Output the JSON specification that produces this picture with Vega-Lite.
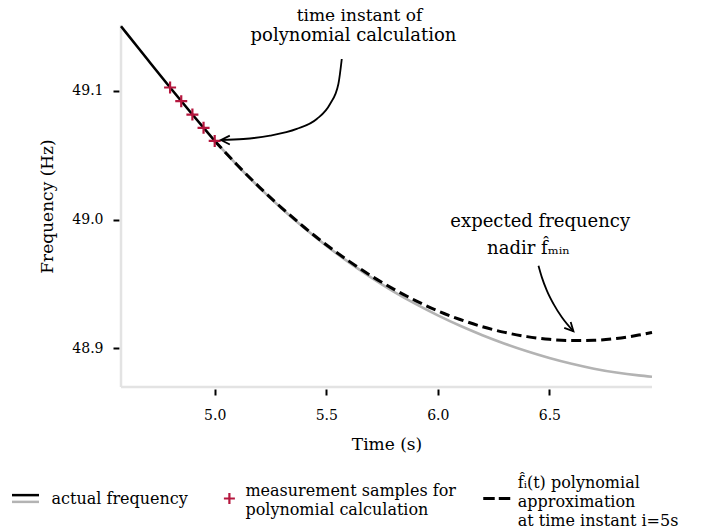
{
  "$schema": "https://vega.github.io/schema/vega-lite/v6.json",
  "width": 531,
  "height": 362,
  "autosize": {"type": "none"},
  "padding": {"left": 121, "top": 25, "right": 57, "bottom": 144},
  "config": {"font": "DejaVu Serif", "view": {"stroke": null}, "axis": {"grid": false},
    "legend": {"title": null, "orient": "none", "padding": 0, "symbolStrokeWidth": 2.5,
      "labelFontSize": 16, "labelFont": "DejaVu Serif", "labelColor": "black", "labelLimit": 400, "labelBaseline": "middle"}},
  "datasets": {
    "actual": [
      {"t": 4.58, "f": 49.150, "key": "A"}, {"t": 4.6, "f": 49.1457, "key": "A"}, {"t": 4.7, "f": 49.124, "key": "A"},
      {"t": 4.8, "f": 49.1025, "key": "A"}, {"t": 4.9, "f": 49.0815, "key": "A"}, {"t": 5.0, "f": 49.061, "key": "A"},
      {"t": 5.0, "f": 49.061, "key": "G"}, {"t": 5.1, "f": 49.0423, "key": "G"}, {"t": 5.2, "f": 49.0248, "key": "G"},
      {"t": 5.3, "f": 49.0086, "key": "G"}, {"t": 5.4, "f": 48.9936, "key": "G"}, {"t": 5.5, "f": 48.9797, "key": "G"},
      {"t": 5.6, "f": 48.9669, "key": "G"}, {"t": 5.7, "f": 48.9551, "key": "G"}, {"t": 5.8, "f": 48.9443, "key": "G"},
      {"t": 5.9, "f": 48.9345, "key": "G"}, {"t": 6.0, "f": 48.9256, "key": "G"}, {"t": 6.1, "f": 48.9175, "key": "G"},
      {"t": 6.2, "f": 48.9102, "key": "G"}, {"t": 6.3, "f": 48.9036, "key": "G"}, {"t": 6.4, "f": 48.8977, "key": "G"},
      {"t": 6.5, "f": 48.8925, "key": "G"}, {"t": 6.6, "f": 48.888, "key": "G"}, {"t": 6.7, "f": 48.8842, "key": "G"},
      {"t": 6.8, "f": 48.8812, "key": "G"}, {"t": 6.9, "f": 48.879, "key": "G"}, {"t": 6.96, "f": 48.878, "key": "G"}
    ],
    "poly": [
      {"t": 5.0, "f": 49.061, "key": "P"}, {"t": 5.1, "f": 49.0425, "key": "P"}, {"t": 5.2, "f": 49.0252, "key": "P"},
      {"t": 5.3, "f": 49.0091, "key": "P"}, {"t": 5.4, "f": 48.9942, "key": "P"}, {"t": 5.5, "f": 48.9804, "key": "P"},
      {"t": 5.6, "f": 48.9679, "key": "P"}, {"t": 5.7, "f": 48.9564, "key": "P"}, {"t": 5.8, "f": 48.9462, "key": "P"},
      {"t": 5.9, "f": 48.9371, "key": "P"}, {"t": 6.0, "f": 48.9291, "key": "P"}, {"t": 6.1, "f": 48.9224, "key": "P"},
      {"t": 6.2, "f": 48.9168, "key": "P"}, {"t": 6.3, "f": 48.9124, "key": "P"}, {"t": 6.4, "f": 48.9091, "key": "P"},
      {"t": 6.5, "f": 48.907, "key": "P"}, {"t": 6.6, "f": 48.9061, "key": "P"}, {"t": 6.7, "f": 48.9063, "key": "P"},
      {"t": 6.8, "f": 48.9077, "key": "P"}, {"t": 6.9, "f": 48.9103, "key": "P"}, {"t": 6.96, "f": 48.9124, "key": "P"}
    ],
    "samples": [
      {"t": 4.8, "f": 49.1025, "key": "S"}, {"t": 4.85, "f": 49.0919, "key": "S"}, {"t": 4.9, "f": 49.0815, "key": "S"},
      {"t": 4.95, "f": 49.0712, "key": "S"}, {"t": 5.0, "f": 49.061, "key": "S"}
    ],
    "arrow1": [
      {"t": 5.5695, "f": 49.1246}, {"t": 5.5543, "f": 49.1052}, {"t": 5.517, "f": 49.0897}, {"t": 5.4574, "f": 49.078},
      {"t": 5.3677, "f": 49.0703}, {"t": 5.248, "f": 49.0651}, {"t": 5.1283, "f": 49.0625}, {"t": 5.0283, "f": 49.0617}
    ],
    "arrow2": [
      {"t": 6.4511, "f": 48.9642}, {"t": 6.4664, "f": 48.9551}, {"t": 6.4888, "f": 48.9448}, {"t": 6.5184, "f": 48.9345},
      {"t": 6.556, "f": 48.9241}, {"t": 6.608, "f": 48.9132}
    ],
    "legendkeys": [{"k1": "G", "k2": "S", "k3": "P"}]
  },
  "layer": [
    {
      "data": {"values": [{}]},
      "mark": {"type": "rule", "color": "#e3e3e3", "strokeWidth": 2.5},
      "encoding": {"x": {"datum": 4.58, "type": "quantitative", "title": "Time (s)", "scale": {"domain": [4.58, 6.96], "nice": false, "zero": false}}}
    },
    {
      "data": {"values": [{}]},
      "mark": {"type": "rule", "color": "#e3e3e3", "strokeWidth": 2.5},
      "encoding": {"y": {"datum": 48.87, "type": "quantitative", "title": "Frequency (Hz)", "scale": {"domain": [48.87, 49.151], "nice": false, "zero": false}}}
    },
    {
      "data": {"name": "actual"},
      "mark": {"type": "line", "strokeWidth": 2.6, "interpolate": "monotone"},
      "encoding": {
        "x": {"field": "t", "type": "quantitative", "title": "Time (s)", "scale": {"domain": [4.58, 6.96], "nice": false, "zero": false},
          "axis": {"title": "Time (s)", "values": [5, 5.5, 6, 6.5], "format": ".1f", "domain": false, "offset": 2,
            "tickColor": "black", "tickWidth": 2, "tickSize": 6, "labelFontSize": 14, "labelColor": "black", "labelPadding": 13,
            "titleFontSize": 17, "titleFontWeight": "normal", "titleColor": "black", "titlePadding": 14, "grid": false,
            "labelFont": "DejaVu Serif", "titleFont": "DejaVu Serif"}},
        "y": {"field": "f", "type": "quantitative", "title": "Frequency (Hz)", "scale": {"domain": [48.87, 49.151], "nice": false, "zero": false},
          "axis": {"title": "Frequency (Hz)", "values": [48.9, 49.0, 49.1], "format": ".1f", "domain": false, "offset": 2,
            "tickColor": "black", "tickWidth": 2, "tickSize": 6, "labelFontSize": 14, "labelColor": "black", "labelPadding": 10,
            "titleFontSize": 17, "titleFontWeight": "normal", "titleColor": "black", "titlePadding": 15, "grid": false,
            "labelFont": "DejaVu Serif", "titleFont": "DejaVu Serif"}},
        "color": {"field": "key", "type": "nominal",
          "scale": {"domain": ["A", "S", "P", "G"], "range": ["#000000", "#b5173e", "#000000", "#b3b3b3"]},
          "legend": {
            "values": ["A"], "legendX": -110.5, "legendY": 458.5,
            "symbolType": "M-1,-0.25H1", "symbolSize": 729, "symbolStrokeWidth": 2.5, "symbolFillColor": "transparent",
            "labelOffset": 11, "labelExpr": "'actual frequency'"
          }}
      }
    },
    {
      "data": {"name": "legendkeys"},
      "mark": {"type": "point", "opacity": 0, "filled": false},
      "encoding": {
        "x": {"datum": 6.0, "type": "quantitative", "title": "Time (s)", "scale": {"domain": [4.58, 6.96], "nice": false, "zero": false}},
        "y": {"datum": 49.0, "type": "quantitative", "title": "Frequency (Hz)", "scale": {"domain": [48.87, 49.151], "nice": false, "zero": false}},
        "fill": {"field": "k1", "type": "nominal", "scale": {"domain": ["G"], "range": ["transparent"]},
          "legend": {
            "legendX": -110.5, "legendY": 458.5, "labelExpr": "''", "labelOffset": 11,
            "symbolType": "M-1,0.25H1", "symbolSize": 729, "symbolStrokeWidth": 2.5,
            "symbolStrokeColor": "#b3b3b3", "symbolOpacity": 1
          }},
        "strokeDash": {"field": "k2", "type": "nominal", "scale": {"domain": ["S"], "range": [[1, 0]]},
          "legend": {
            "legendX": 100.4, "legendY": 465.5, "labelOffset": 8,
            "symbolType": "M-1,0H1M0,-1V1", "symbolSize": 121, "symbolStrokeWidth": 2.2,
            "symbolStrokeColor": "#b5173e", "symbolFillColor": "transparent", "symbolOpacity": 1,
            "labelExpr": "['measurement samples for', 'polynomial calculation']",
            "encoding": {"labels": {"dy": {"value": -8}, "lineHeight": {"value": 19}}}
          }},
        "shape": {"field": "k3", "type": "nominal", "scale": {"domain": ["P"], "range": ["M-1,0H-0.15M0.15,0H1"]},
          "legend": {
            "legendX": 360.75, "legendY": 458.5, "labelOffset": 6,
            "symbolSize": 729, "symbolStrokeWidth": 2.8,
            "symbolStrokeColor": "#000000", "symbolFillColor": "transparent", "symbolOpacity": 1,
            "labelExpr": "['f̂ᵢ(t) polynomial', 'approximation', 'at time instant i=5s']",
            "encoding": {"labels": {"dy": {"value": -16}, "lineHeight": {"value": 19}}}
          }}
      }
    },
    {
      "data": {"name": "poly"},
      "mark": {"type": "line", "strokeWidth": 3, "strokeDash": [10, 5], "interpolate": "monotone"},
      "encoding": {
        "x": {"field": "t", "type": "quantitative", "title": "Time (s)", "scale": {"domain": [4.58, 6.96], "nice": false, "zero": false}},
        "y": {"field": "f", "type": "quantitative", "title": "Frequency (Hz)", "scale": {"domain": [48.87, 49.151], "nice": false, "zero": false}},
        "color": {"field": "key", "type": "nominal", "scale": {"domain": ["A", "S", "P", "G"], "range": ["#000000", "#b5173e", "#000000", "#b3b3b3"]}}
      }
    },
    {
      "data": {"name": "samples"},
      "mark": {"type": "point", "shape": "M-1,0H1M0,-1V1", "size": 144, "filled": false, "strokeWidth": 2.2, "opacity": 1},
      "encoding": {
        "x": {"field": "t", "type": "quantitative", "title": "Time (s)", "scale": {"domain": [4.58, 6.96], "nice": false, "zero": false}},
        "y": {"field": "f", "type": "quantitative", "title": "Frequency (Hz)", "scale": {"domain": [48.87, 49.151], "nice": false, "zero": false}},
        "color": {"field": "key", "type": "nominal", "scale": {"domain": ["A", "S", "P", "G"], "range": ["#000000", "#b5173e", "#000000", "#b3b3b3"]}}
      }
    },
    {
      "data": {"name": "arrow1"},
      "mark": {"type": "line", "color": "black", "strokeWidth": 1.8, "interpolate": "monotone"},
      "encoding": {
        "x": {"field": "t", "type": "quantitative", "title": "Time (s)", "scale": {"domain": [4.58, 6.96], "nice": false, "zero": false}},
        "y": {"field": "f", "type": "quantitative", "title": "Frequency (Hz)", "scale": {"domain": [48.87, 49.151], "nice": false, "zero": false}}
      }
    },
    {
      "data": {"name": "arrow2"},
      "mark": {"type": "line", "color": "black", "strokeWidth": 1.8, "interpolate": "monotone"},
      "encoding": {
        "x": {"field": "t", "type": "quantitative", "title": "Time (s)", "scale": {"domain": [4.58, 6.96], "nice": false, "zero": false}},
        "y": {"field": "f", "type": "quantitative", "title": "Frequency (Hz)", "scale": {"domain": [48.87, 49.151], "nice": false, "zero": false}}
      }
    },
    {
      "data": {"values": [{}]},
      "mark": {"type": "point", "shape": "M2.2,-1.1L0,0L2.2,1.1", "size": 64, "filled": false, "stroke": "black", "strokeWidth": 1.8, "angle": 0, "opacity": 1},
      "encoding": {
        "x": {"datum": 5.0283, "type": "quantitative", "title": "Time (s)", "scale": {"domain": [4.58, 6.96], "nice": false, "zero": false}},
        "y": {"datum": 49.0617, "type": "quantitative", "title": "Frequency (Hz)", "scale": {"domain": [48.87, 49.151], "nice": false, "zero": false}}
      }
    },
    {
      "data": {"values": [{}]},
      "mark": {"type": "point", "shape": "M2.2,-1.1L0,0L2.2,1.1", "size": 64, "filled": false, "stroke": "black", "strokeWidth": 1.8, "angle": 227, "opacity": 1},
      "encoding": {
        "x": {"datum": 6.608, "type": "quantitative", "title": "Time (s)", "scale": {"domain": [4.58, 6.96], "nice": false, "zero": false}},
        "y": {"datum": 48.9132, "type": "quantitative", "title": "Frequency (Hz)", "scale": {"domain": [48.87, 49.151], "nice": false, "zero": false}}
      }
    },
    {
      "data": {"values": [{}]},
      "mark": {"type": "text", "text": "time instant of", "fontSize": 17, "color": "black", "align": "center", "baseline": "alphabetic"},
      "encoding": {
        "x": {"datum": 5.649, "type": "quantitative", "title": "Time (s)", "scale": {"domain": [4.58, 6.96], "nice": false, "zero": false}},
        "y": {"datum": 49.1544, "type": "quantitative", "title": "Frequency (Hz)", "scale": {"domain": [48.87, 49.151], "nice": false, "zero": false}}
      }
    },
    {
      "data": {"values": [{}]},
      "mark": {"type": "text", "text": "polynomial calculation", "fontSize": 18, "color": "black", "align": "center", "baseline": "alphabetic"},
      "encoding": {
        "x": {"datum": 5.622, "type": "quantitative", "title": "Time (s)", "scale": {"domain": [4.58, 6.96], "nice": false, "zero": false}},
        "y": {"datum": 49.1388, "type": "quantitative", "title": "Frequency (Hz)", "scale": {"domain": [48.87, 49.151], "nice": false, "zero": false}}
      }
    },
    {
      "data": {"values": [{}]},
      "mark": {"type": "text", "text": "expected frequency", "fontSize": 18, "color": "black", "align": "center", "baseline": "alphabetic"},
      "encoding": {
        "x": {"datum": 6.459, "type": "quantitative", "title": "Time (s)", "scale": {"domain": [4.58, 6.96], "nice": false, "zero": false}},
        "y": {"datum": 48.9945, "type": "quantitative", "title": "Frequency (Hz)", "scale": {"domain": [48.87, 49.151], "nice": false, "zero": false}}
      }
    },
    {
      "data": {"values": [{}]},
      "mark": {"type": "text", "text": "nadir f̂ₘᵢₙ", "fontSize": 18, "color": "black", "align": "center", "baseline": "alphabetic"},
      "encoding": {
        "x": {"datum": 6.407, "type": "quantitative", "title": "Time (s)", "scale": {"domain": [4.58, 6.96], "nice": false, "zero": false}},
        "y": {"datum": 48.9733, "type": "quantitative", "title": "Frequency (Hz)", "scale": {"domain": [48.87, 49.151], "nice": false, "zero": false}}
      }
    }
  ]
}
